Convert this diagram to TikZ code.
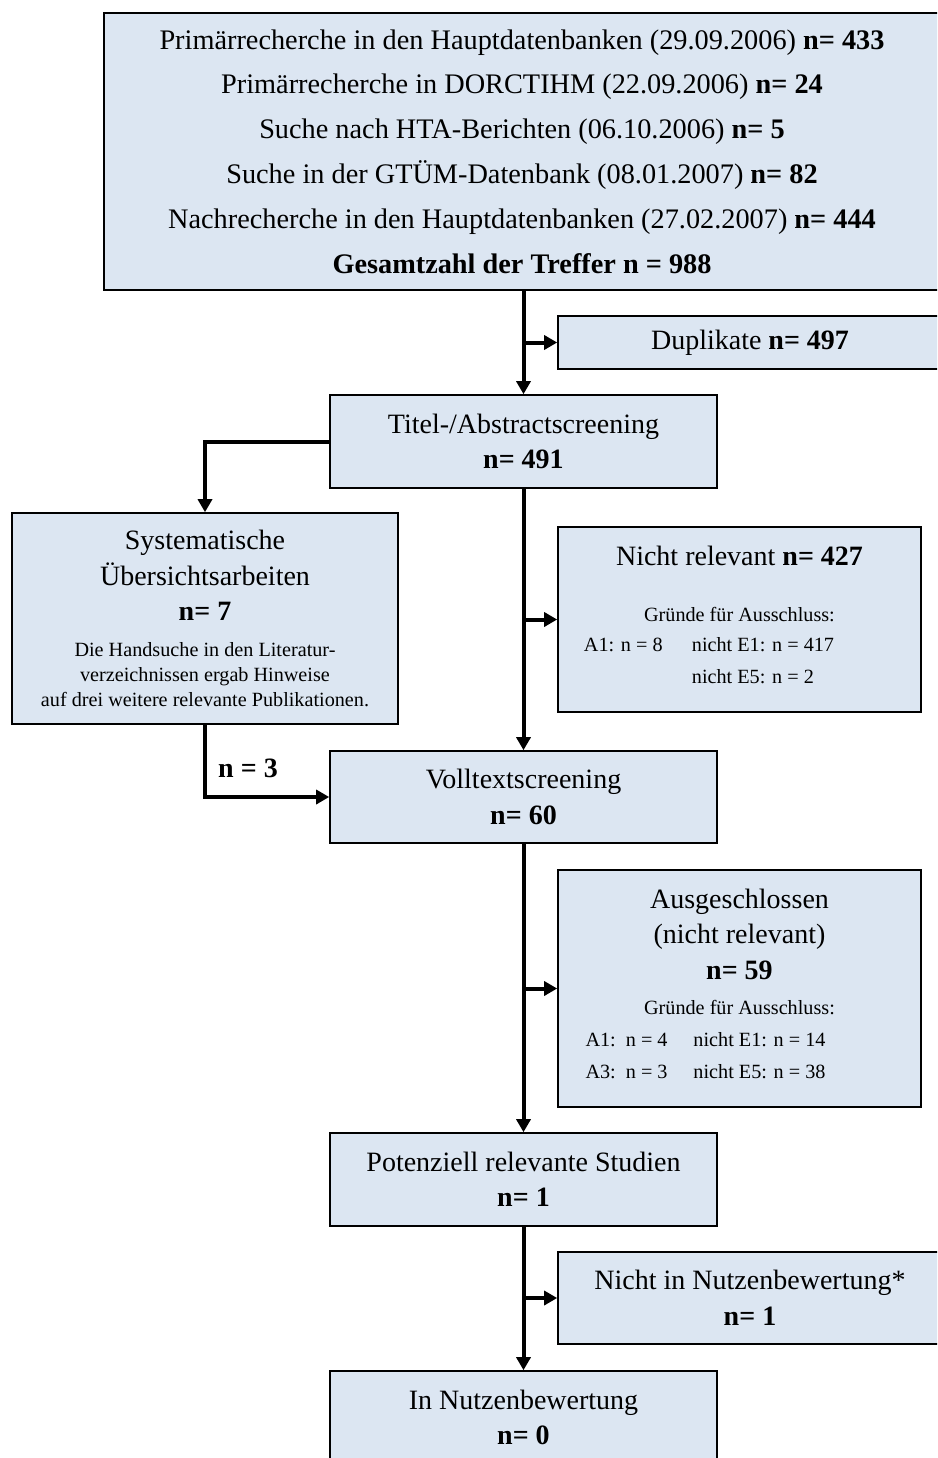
\documentclass[tikz,border=0pt]{standalone}
\usepackage{fontspec}
\setmainfont{Liberation Serif}
\usetikzlibrary{arrows.meta}

\definecolor{boxfill}{RGB}{220,230,242}
\newcommand{\boxfont}{\fontsize{28}{35.5}\selectfont}
\newcommand{\notefont}{\fontsize{20.2}{25}\selectfont}
\newcommand{\rowfont}{\fontsize{20.2}{32}\selectfont}

\begin{document}
\begin{tikzpicture}[
  x=1pt, y=-1pt,
  box/.style={draw, line width=1.6pt, fill=boxfill, inner sep=0pt, align=center, font=\boxfont},
  flow/.style={line width=4pt, -{Triangle[length=13pt, width=14pt]}},
  count/.style={font=\boxfont\bfseries}
]
\useasboundingbox (0,0) rectangle (937,1458);
\clip (0,0) rectangle (937,1458);

\node[box, minimum width=836, minimum height=277, font=\fontsize{28.3}{44.8}\selectfont] (search) at (522,151.5)
  {Primärrecherche in den Hauptdatenbanken (29.09.2006) \textbf{n= 433}\\
   Primärrecherche in DORCTIHM (22.09.2006) \textbf{n= 24}\\
   Suche nach HTA-Berichten (06.10.2006) \textbf{n= 5}\\
   Suche in der GTÜM-Datenbank (08.01.2007) \textbf{n= 82}\\
   Nachrecherche in den Hauptdatenbanken (27.02.2007) \textbf{n= 444}\\
   \textbf{Gesamtzahl der Treffer n = 988}};

\node[box, minimum width=384, minimum height=53] (dup) at (750,342.5) {Duplikate \textbf{n= 497}};

\node[box, minimum width=387, minimum height=93] (titel) at (523.5,441.5)
  {Titel-/Abstractscreening\\ \textbf{n= 491}};

\node[box, minimum width=386, minimum height=211] (syst) at (205,618.5)
  {Systematische\\ Übersichtsarbeiten\\ \textbf{n= 7}\\
   {\notefont Die Handsuche in den Literatur-}\\[-10.5pt]
   {\notefont verzeichnissen ergab Hinweise}\\[-10.5pt]
   {\notefont auf drei weitere relevante Publikationen.}};

\node[box, minimum width=363, minimum height=185] (nrel) at (739.5,619.5)
  {Nicht relevant \textbf{n= 427}\\[20.5pt]
   {\notefont Gründe für Ausschluss:}\\[-5.5pt]
   {\rowfont\begin{tabular}[t]{@{}p{108pt}@{}l@{}}
     A1: n = 8 & nicht E1: n = 417\\
               & nicht E5: n = 2
   \end{tabular}\hspace*{61pt}}};

\node[box, minimum width=387, minimum height=92] (voll) at (523.5,797)
  {Volltextscreening\\ \textbf{n= 60}};

\node[box, minimum width=363, minimum height=237] (ausg) at (739.5,988.5)
  {Ausgeschlossen\\ (nicht relevant)\\ \textbf{n= 59}\\
   {\notefont Gründe für Ausschluss:}\\[-3.5pt]
   {\rowfont\begin{tabular}[t]{@{}p{108pt}@{}l@{}}
     A1:\ \ n = 4 & nicht E1: n = 14\\
     A3:\ \ n = 3 & nicht E5: n = 38
   \end{tabular}\hspace*{68pt}}};

\node[box, minimum width=387, minimum height=93] (pot) at (523.5,1179.5)
  {Potenziell relevante Studien\\ \textbf{n= 1}};

\node[box, minimum width=384, minimum height=92] (nnb) at (750,1298)
  {Nicht in Nutzenbewertung*\\ \textbf{n= 1}};

\node[box, minimum width=387, minimum height=93] (innb) at (523.5,1417.5)
  {In Nutzenbewertung\\ \textbf{n= 0}};

\node[count] (ncount) at (248,768) {n = 3};

\draw[flow] (titel.north |- search.south) -- (titel.north);
\draw[flow] (titel.north |- dup.west) -- (dup.west);
\draw[flow] (titel.west) -| (syst.north);
\draw[flow] (titel.south) -- (voll.north);
\draw[flow] (titel.south |- nrel.west) -- (nrel.west);
\draw[flow] (syst.south) |- (voll.west);
\draw[flow] (voll.south) -- (pot.north);
\draw[flow] (voll.south |- ausg.west) -- (ausg.west);
\draw[flow] (pot.south) -- (innb.north);
\draw[flow] (pot.south |- nnb.west) -- (nnb.west);

\end{tikzpicture}
\end{document}
